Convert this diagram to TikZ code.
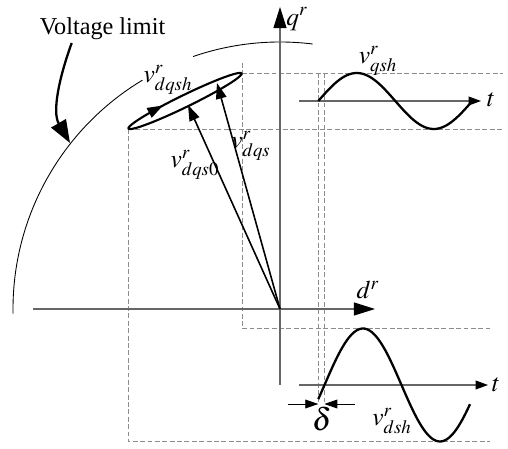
\documentclass[tikz,border=0pt]{standalone}
\usepackage{mathptmx}
\usepackage{fontspec}
\setmainfont{Liberation Serif}
\usetikzlibrary{arrows.meta, decorations.markings}
\tikzset{axis/.style={black!60, line width=0.6pt},guide/.style={black!45, line width=0.5pt, dash pattern=on 2.8pt off 1.4pt},vec/.style={line width=0.9pt, -{Triangle[length=9pt, width=6pt]}},wave/.style={line width=1.3pt},lbl/.style={font=\fontsize{14.5}{17}\selectfont, inner sep=0pt}}

\begin{document}
\begin{tikzpicture}[x=0.02cm, y=-0.02cm,
   bigtip/.style={-{Triangle[length=12pt, width=7.4pt, color=black]}},
   ttip/.style={-{Triangle[length=7pt, width=5pt, color=black]}},
   dtip/.style={-{Triangle[length=7.4pt, width=5pt]}}]
  \useasboundingbox (0,0) rectangle (508,449);

  % Origine et extrémités des vecteurs
  \coordinate (O) at (280,309);
  \coordinate (tip0) at (188,105);
  \coordinate (tip1) at (217,83);

  % Projections (tirets)
  \draw[guide] (242,63) -- (242,328.5) -- (490,328.5);
  \draw[guide] (242,73) -- (503,73);
  \draw[guide] (128,129) -- (503,129);
  \draw[guide] (128,129) -- (128,441.5) -- (490,441.5);
  \draw[guide] (318.3,73) -- (318.3,402);
  \draw[guide] (324.3,73) -- (324.3,402);

  % Limite de tension
  \draw[line width=0.5pt] (O) ++(-181:267) arc[start angle=-181, end angle=-121, radius=267];
  \draw[line width=0.5pt] (O) ++(-109:267) arc[start angle=-109, end angle=-83, radius=267];
  \node[font=\fontsize{13.8}{16}\selectfont, inner sep=0pt, anchor=base] (vlim) at (102.5,34.3) {Voltage limit};
  \coordinate (vlimend) at (70,143);
  \draw[line width=1.3pt, -{Triangle[length=13pt, width=9.5pt]}] (71.7,43) .. controls (59,78) and (52,112) .. (vlimend);

  % Axes d-q
  \draw[axis, bigtip] (280,385) -- (280,7);
  \draw[axis, bigtip] (33,309) -- (375,309);
  \node[lbl] (lq) at (297,19) {$q^r$};
  \node[lbl] (ld) at (368,290) {$d^r$};

  % Trajectoire harmonique
  \draw[line width=1.2pt, line join=round, postaction={decorate},
        decoration={markings, mark=at position 0.665 with {\arrow{Triangle[length=9pt, width=6pt]}}}]
    plot[domain=0:360, samples=181] ({185+56.46*cos(\x)+2.63*sin(\x)}, {101-27.53*cos(\x)+5.39*sin(\x)});
  \draw[vec] (O) -- (tip0);
  \draw[vec] (O) -- (tip1);
  \node[lbl] (lsh) at (168,80) {$v^r_{dqsh}$};
  \node[lbl] (ls) at (251,146) {$v^r_{dqs}$};
  \node[lbl] (ls0) at (195,165) {$v^r_{dqs0}$};

  % Composante q
  \draw[axis, ttip] (299,101) -- (481,101);
  \draw[wave] plot[domain=318.3:472.3, samples=60, smooth] (\x, {101-28*sin(2.3377*(\x-318.3))});
  \node[lbl] (lt1) at (491,100) {$t$};
  \node[lbl] (lqsh) at (378,61) {$v^r_{qsh}$};

  % Composante d
  \draw[axis, ttip] (299,385) -- (488,385);
  \draw[wave] plot[domain=318.3:470, samples=60, smooth] (\x, {385-56.5*sin(2.3377*(\x-324.5))});
  \node[lbl] (lt2) at (496,385) {$t$};
  \node[lbl] (ldsh) at (392,421) {$v^r_{dsh}$};

  % Déphasage
  \coordinate (dl) at (318.3,404);
  \coordinate (dr) at (324.3,404);
  \draw[line width=0.5pt, dtip] (287.7,404) -- (dl);
  \draw[line width=0.5pt, dtip] (355,404) -- (dr);
  \node[lbl, font=\fontsize{18}{20}\selectfont] (ldelta) at (322,419) {$\delta$};
\end{tikzpicture}
\end{document}
